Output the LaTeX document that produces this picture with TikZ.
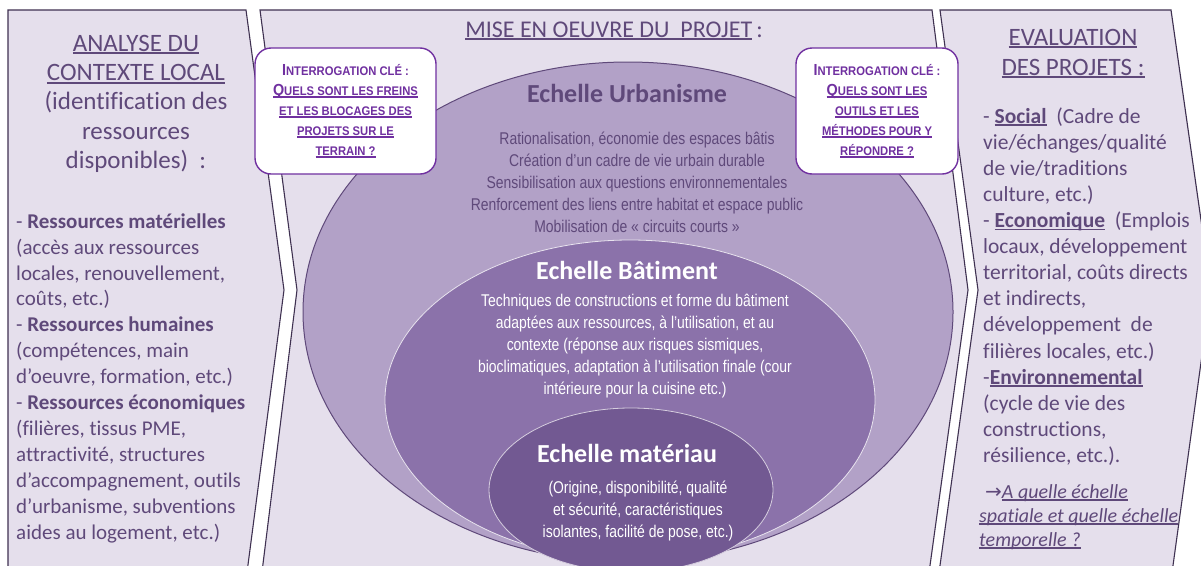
\documentclass[tikz,border=0pt]{standalone}
\usepackage{fontspec}
\setmainfont{Carlito}[Ligatures={TeX,NoCommon}]
\newfontfamily\narrowf[FakeStretch=0.82]{Liberation Sans}
\newfontfamily\boxf[FakeStretch=0.9]{Liberation Sans}
\newfontfamily\arrowf{DejaVu Sans}
\definecolor{panelfill}{HTML}{E5DFEC}
\definecolor{panelline}{HTML}{3F3151}
\definecolor{txt}{HTML}{5F497A}
\definecolor{ellA}{HTML}{B2A1C7}
\definecolor{ellB}{HTML}{8B72AA}
\definecolor{ellC}{HTML}{725992}
\definecolor{qpurple}{HTML}{7030A0}
\newcommand\ulc[1]{\setbox0=\hbox{#1}\leavevmode\rlap{\rule[-0.12em]{\wd0}{0.07em}}\box0}
\newcommand\ulq[1]{\setbox0=\hbox{#1}\leavevmode\rlap{\rule[-2.6pt]{\wd0}{1.4pt}}\box0}
\newcommand\qcapx[1]{{\fontsize{16}{20}\selectfont #1}}
\begin{document}
\begin{tikzpicture}[x=1pt,y=-1pt,
  panel/.style={fill=panelfill,draw=panelline,line width=1.1pt},
  txtblock/.style={inner sep=0pt,text=txt},
  titlefont/.style={font=\fontsize{25}{29.3}\selectfont},
  bodyfont/.style={font=\fontsize{21}{25.9}\selectfont},
  scalehead/.style={inner sep=0pt,font=\bfseries\fontsize{26}{30}\selectfont},
  scaletext/.style={inner sep=0pt,align=center,font=\narrowf\fontsize{17}{22}\selectfont},
  qbox/.style={draw=qpurple,line width=1.4pt,fill=white,rounded corners=16pt,
    minimum height=126pt,inner sep=0pt,align=center,text=qpurple,
    font=\boxf\bfseries\fontsize{12.5}{20}\selectfont}]
\useasboundingbox (0,0) rectangle (1201,565);
\fill[white] (0,0) rectangle (1201,565);
\begin{scope}
\clip (0,0) rectangle (1201,565);
% panels
\filldraw[panel] (8,580) -- (8,10) -- (246,10) -- (284,290) -- (246,580);
\filldraw[panel] (261,580) -- (297,290) -- (260,10) -- (932,10) -- (968,290) -- (928,580);
\filldraw[panel] (938,580) -- (978,290) -- (940,10) -- (1171,10) -- (1211,290) -- (1171,580);
% ellipses
\filldraw[fill=ellA,draw=txt,line width=1pt] (628,312) ellipse [x radius=325pt,y radius=250pt];
\filldraw[fill=ellB,draw=white!80!ellB,line width=0.8pt] (630,400) ellipse [x radius=245pt,y radius=160pt];
\filldraw[fill=ellC,draw=white!70!ellC,line width=0.8pt] (631,490) ellipse [x radius=142pt,y radius=82pt];
\end{scope}

% left panel
\node[txtblock,titlefont,align=center,anchor=north] (lefttitle) at (136,30.5)
 {\strut\ulc{ANALYSE DU}\\\ulc{CONTEXTE LOCAL}\\(identification des\\ressources\\disponibles)~~:};
\node[txtblock,bodyfont,align=left,anchor=north west] (leftbody) at (16,209.9)
 {\strut- \textbf{Ressources matérielles}\\(accès aux ressources\\locales, renouvellement,\\coûts, etc.)\\
  - \textbf{Ressources humaines}\\(compétences, main\\d’oeuvre, formation, etc.)\\
  - \textbf{Ressources économiques}\\(filières, tissus PME,\\attractivité, structures\\d’accompagnement, outils\\d’urbanisme, subventions\\aides au logement, etc.)};

% middle panel
\node[txtblock,font=\fontsize{24}{28}\selectfont,anchor=base] (midtitle) at (614,37)
 {\ulc{MISE EN OEUVRE DU~~PROJET}\,:};
\node[scalehead,text=txt,anchor=base] (urbhead) at (627,102) {Echelle Urbanisme};
\node[scaletext,text=txt,anchor=north] (urbtext) at (637,128.6)
 {\strut Rationalisation, économie des espaces bâtis\\Création d’un cadre de vie urbain durable\\Sensibilisation aux questions environnementales\\Renforcement des liens entre habitat et espace public\\Mobilisation de « circuits courts »};
\node[scalehead,text=white,anchor=base] (bathead) at (627,279) {Echelle Bâtiment};
\node[scaletext,text=white,anchor=north] (battext) at (635,290.6)
 {\strut Techniques de constructions et forme du bâtiment\\adaptées aux ressources, à l’utilisation, et au\\contexte (réponse aux risques sismiques,\\bioclimatiques, adaptation à l’utilisation finale (cour\\intérieure pour la cuisine etc.)};
\node[scalehead,text=white,anchor=base] (mathead) at (627,462) {Echelle matériau};
\node[scaletext,text=white,anchor=north] (mattext) at (638,477.6)
 {\strut(Origine, disponibilité, qualité\\et sécurité, caractéristiques\\isolantes, facilité de pose, etc.)};

% question boxes
\node[qbox,minimum width=181pt] (q1) at (345.5,111)
 {\qcapx{I}NTERROGATION CLÉ :\\\ulq{\qcapx{Q}UELS SONT LES FREINS}\\\ulq{ET LES BLOCAGES DES}\\\ulq{PROJETS SUR LE}\\\ulq{TERRAIN ?}};
\node[qbox,minimum width=162pt] (q2) at (877,111)
 {\qcapx{I}NTERROGATION CLÉ :\\\ulq{\qcapx{Q}UELS SONT LES}\\\ulq{OUTILS ET LES}\\\ulq{MÉTHODES POUR Y}\\\ulq{RÉPONDRE ?}};

% right panel
\node[txtblock,align=center,anchor=north,font=\fontsize{25}{30}\selectfont] (righttitle) at (1073,24)
 {\strut\ulc{EVALUATION}\\\ulc{DES PROJETS :}};
\node[txtblock,align=left,anchor=north west,font=\fontsize{21.5}{26.1}\selectfont] (rightbody) at (983,104.7)
 {\strut- \textbf{\ulc{Social}}~~(Cadre de\\vie/échanges/qualité\\de vie/traditions\\culture, etc.)\\
  - \textbf{\ulc{Economique}}~~(Emplois\\locaux, développement\\territorial, coûts directs\\et indirects,\\développement~~de\\filières locales, etc.)\\
  -\textbf{\ulc{Environnemental}}\\(cycle de vie des\\constructions,\\résilience, etc.).};
\node[txtblock,align=left,anchor=north west,font=\itshape\fontsize{20}{24}\selectfont] (question) at (979,481.2)
 {\strut\hspace{6pt}{\arrowf\upshape\fontsize{20}{24}\selectfont→}\ulc{A quelle échelle}\\\ulc{spatiale et quelle échelle}\\\ulc{temporelle ?}};
\end{tikzpicture}
\end{document}
